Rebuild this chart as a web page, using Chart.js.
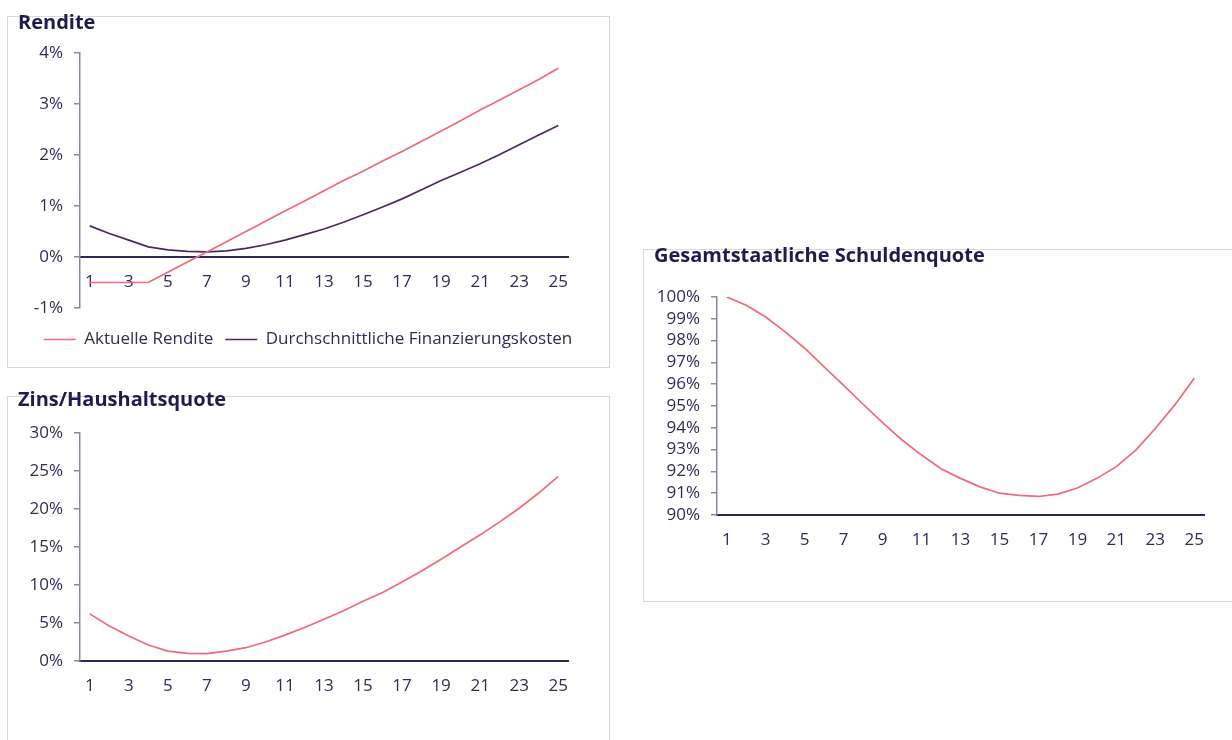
<!DOCTYPE html>
<html>
<head>
<meta charset="utf-8">
<script src="https://cdn.jsdelivr.net/npm/chart.js@4.4.1/dist/chart.umd.min.js"></script>
<style>
  html, body { margin: 0; padding: 0; background: #ffffff; width: 1232px; height: 740px; overflow: hidden; }
  .box { position: absolute; border: 1px solid #d9d9d9; background: #fff; box-sizing: border-box; }
  .title { position: absolute; font-family: "Open Sans", "Noto Sans", sans-serif; font-weight: 700; font-size: 20px; line-height: 20px; color: #1d1c4b; white-space: nowrap; }
  .cv { position: absolute; }
</style>
</head>
<body>
<div class="box" style="left:7px;top:16px;width:603px;height:352px;"></div>
<div class="box" style="left:7px;top:396px;width:603px;height:360px;"></div>
<div class="box" style="left:643px;top:249px;width:600px;height:353px;"></div>

<div class="cv" style="left:7px;top:17px;width:602px;height:349px;"><canvas id="c1"></canvas></div>
<div class="cv" style="left:7px;top:397px;width:602px;height:343px;"><canvas id="c2"></canvas></div>
<div class="cv" style="left:644px;top:250px;width:588px;height:350px;"><canvas id="c3"></canvas></div>

<div class="title" style="left:18px;top:12px;">Rendite</div>
<div class="title" style="left:18px;top:389px;">Zins/Haushaltsquote</div>
<div class="title" style="left:654px;top:245px;">Gesamtstaatliche Schuldenquote</div>

<script>
// ---- data ----
const years = ['1','2','3','4','5','6','7','8','9','10','11','12','13','14','15','16','17','18','19','20','21','22','23','24','25'];

const aktuelleRendite = [-0.5,-0.5,-0.5,-0.5,-0.3,-0.1,0.1,0.3,0.5,0.7,0.9,1.1,1.3,1.5,1.68,1.88,2.07,2.27,2.47,2.67,2.88,3.08,3.28,3.48,3.7];
const finanzierungskosten = [0.61,0.46,0.33,0.2,0.14,0.11,0.1,0.12,0.17,0.24,0.33,0.44,0.55,0.68,0.83,0.98,1.14,1.32,1.5,1.66,1.83,2.01,2.2,2.39,2.58];
const zinsHaushaltsquote = [6.2,4.6,3.3,2.1,1.3,1.0,0.96,1.3,1.75,2.5,3.4,4.4,5.5,6.6,7.85,9.0,10.4,11.85,13.4,15.0,16.6,18.3,20.1,22.1,24.3];
const schuldenquote = [100.0,99.62,99.08,98.4,97.65,96.8,95.95,95.08,94.24,93.44,92.75,92.12,91.68,91.29,91.0,90.9,90.85,90.96,91.24,91.68,92.22,92.98,93.97,95.05,96.27];

const seriesNames = ['Aktuelle Rendite', 'Durchschnittliche Finanzierungskosten'];

const PINK = '#ef6a7a';
const PURPLE = '#4b2a5f';
const NAVY = '#2b2a52';
const AXIS_GREY = '#8a8aa2';
const TEXT = '#2e2d52';
const FONT = '"Open Sans", "Noto Sans", sans-serif';

Chart.defaults.font.family = FONT;
Chart.defaults.font.size = 17;
Chart.defaults.color = TEXT;
Chart.defaults.animation = false;

function xScale(position) {
  return {
    type: 'category',
    position: position,
    offset: true,
    grid: { display: false, drawTicks: false },
    border: { display: true, color: NAVY, width: 2 },
    ticks: {
      autoSkip: false, maxRotation: 0, padding: 15, color: TEXT,
      callback: function (v, i) { return i % 2 === 0 ? this.getLabelForValue(v) : ''; }
    }
  };
}
function yScale(min, max, step) {
  return {
    min: min, max: max,
    grid: { drawOnChartArea: false, drawTicks: true, tickLength: 6, color: AXIS_GREY, lineWidth: 1.5 },
    border: { display: true, color: AXIS_GREY, width: 1.5 },
    ticks: { stepSize: step, autoSkip: false, padding: 11, color: TEXT, callback: v => v + '%' },
    afterFit: s => { s.width = 73; }
  };
}
// invisible spacer axis that only reserves room beside the plot
function spacer(position, size) {
  return {
    type: 'linear', position: position, display: true,
    grid: { display: false, drawTicks: false }, border: { display: false },
    ticks: { display: false },
    afterFit: s => { if (position === 'left' || position === 'right') s.width = size; else s.height = size; }
  };
}
function line(label, data, color) {
  return { label: label, data: data, borderColor: color, backgroundColor: color, borderWidth: 1.7,
           pointRadius: 0, tension: 0, fill: false };
}

new Chart(document.getElementById('c1'), {
  type: 'line',
  data: { labels: years, datasets: [line(seriesNames[0], aktuelleRendite, PINK), line(seriesNames[1], finanzierungskosten, PURPLE)] },
  options: {
    responsive: true, maintainAspectRatio: false,
    layout: { padding: { left: 0, right: 0, top: 36, bottom: 8 } },
    plugins: {
      legend: { display: true, position: 'bottom',
        labels: { usePointStyle: true, pointStyle: 'line', pointStyleWidth: 32, boxHeight: 2, padding: 12, color: TEXT, font: { size: 17 } } },
      tooltip: { enabled: false }
    },
    scales: { x: xScale({ y: 0 }), y: yScale(-1, 4, 1), y2: spacer('right', 41), x2: spacer('bottom', 11) }
  }
});

new Chart(document.getElementById('c2'), {
  type: 'line',
  data: { labels: years, datasets: [line('Zins/Haushaltsquote', zinsHaushaltsquote, PINK)] },
  options: {
    responsive: true, maintainAspectRatio: false,
    layout: { padding: { left: 0, right: 41, top: 36, bottom: 79 } },
    plugins: { legend: { display: false }, tooltip: { enabled: false } },
    scales: { x: xScale({ y: 0 }), y: yScale(0, 30, 5) }
  }
});

new Chart(document.getElementById('c3'), {
  type: 'line',
  data: { labels: years, datasets: [line('Gesamtstaatliche Schuldenquote', schuldenquote, PINK)] },
  options: {
    responsive: true, maintainAspectRatio: false,
    layout: { padding: { left: 0, right: 28, top: 47, bottom: 85 } },
    plugins: { legend: { display: false }, tooltip: { enabled: false } },
    scales: { x: xScale({ y: 90 }), y: yScale(90, 100, 1) }
  }
});
</script>
</body>
</html>
